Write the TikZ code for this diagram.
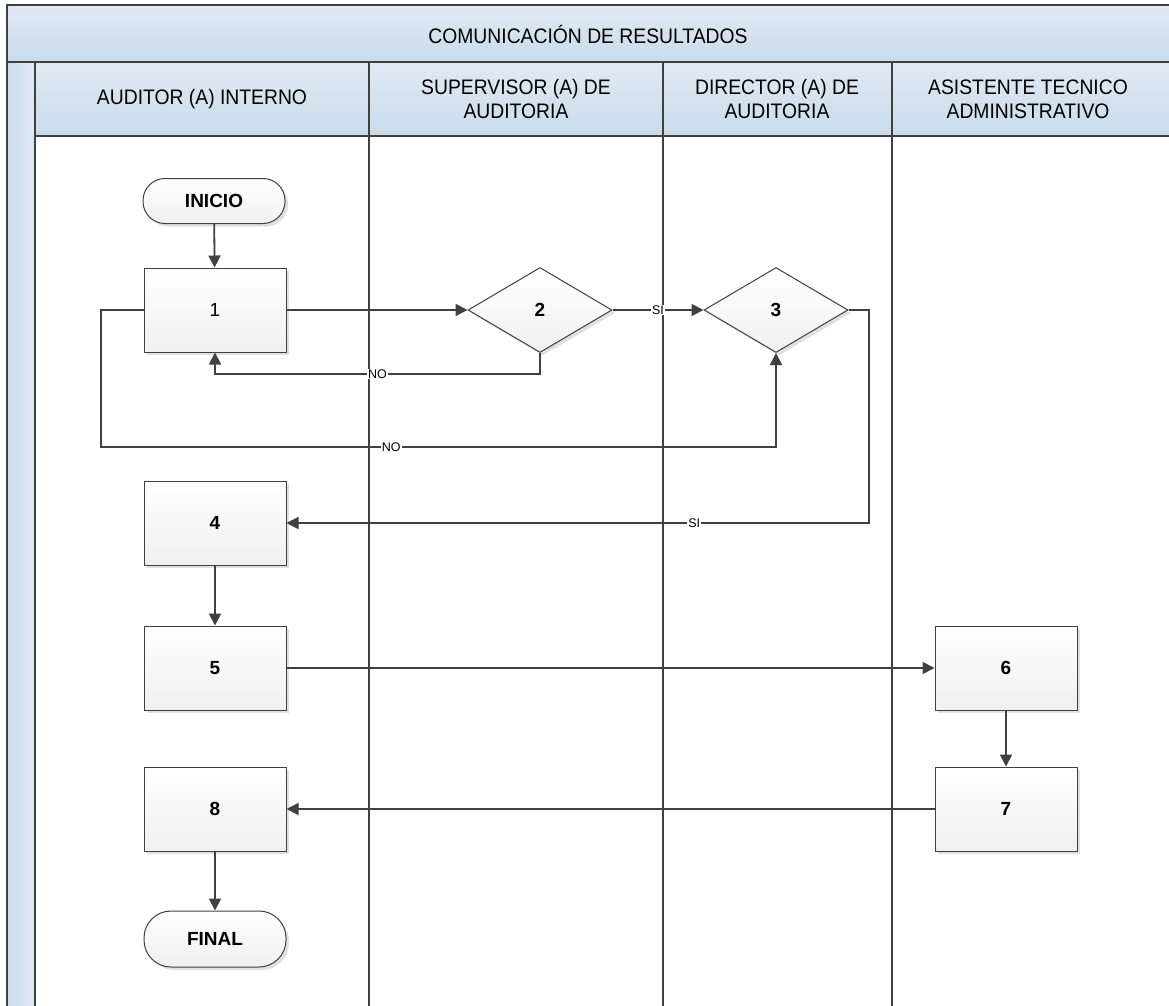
\documentclass[tikz,border=0pt]{standalone}
\usepackage{fontspec}
\setmainfont{Liberation Sans}
\newfontfamily\hdrfont[FakeStretch=0.92]{Liberation Sans}
\usetikzlibrary{shapes.geometric,arrows.meta,shadows,calc}
\definecolor{ln}{HTML}{404040}
\definecolor{hdtop}{HTML}{E1EAF3}
\definecolor{hdbot}{HTML}{C9DBEA}
\tikzset{
  x=1pt, y=-1pt,
  hdr/.style={draw=ln, line width=1.2pt, top color=hdtop, bottom color=hdbot},
  hdrtext/.style={font=\hdrfont\fontsize{21}{24}\selectfont, align=center, text=black},
  lane/.style={draw=ln, line width=1.3pt},
  procbox/.style={draw=ln, line width=1pt, top color=white, bottom color=gray!12,
    minimum width=142pt, minimum height=84pt, inner sep=0pt,
    font=\fontsize{19}{20}\selectfont\bfseries,
    drop shadow={shadow xshift=3pt, shadow yshift=-3pt, fill=black, opacity=0.12}},
  termbox/.style={procbox, rounded corners=22pt, minimum height=45pt},
  decbox/.style={diamond, draw=ln, line width=1pt, top color=white, bottom color=gray!12,
    minimum width=144pt, minimum height=85pt, inner sep=0pt, aspect=1.7,
    font=\fontsize{19}{20}\selectfont\bfseries,
    drop shadow={shadow xshift=3pt, shadow yshift=-3pt, fill=black, opacity=0.12}},
  conn/.style={draw=ln, line width=1.8pt, -{Triangle[length=12pt,width=12pt]}},
  plain/.style={draw=ln, line width=1.8pt},
  elab/.style={fill=white, inner sep=1pt, font=\fontsize{12.5}{12.5}\selectfont, text=black}
}
\begin{document}
\begin{tikzpicture}
\useasboundingbox (0,0) rectangle (1169,1005);
\begin{scope}
\clip (0,0) rectangle (1169,1005);
\fill[white] (0,0) rectangle (1169,1005);
% left band
\shade[left color=hdbot, right color=hdtop, draw=ln, line width=1.2pt] (7,62) rectangle (35,1015);
% title band
\path[hdr] (7,5) rectangle (1180,62);
\node[hdrtext] (title) at (588,34) {COMUNICACIÓN DE RESULTADOS};
% header cells
\path[hdr] (35,62) rectangle (369,136);
\path[hdr] (369,62) rectangle (663,136);
\path[hdr] (663,62) rectangle (892,136);
\path[hdr] (892,62) rectangle (1180,136);
\node[hdrtext] (h1) at (202,99) {AUDITOR (A) INTERNO};
\node[hdrtext] (h2) at (516,99) {SUPERVISOR (A) DE\\AUDITORIA};
\node[hdrtext] (h3) at (777,99) {DIRECTOR (A) DE\\AUDITORIA};
\node[hdrtext] (h4) at (1028,99) {ASISTENTE TECNICO\\ADMINISTRATIVO};
% lane lines
\draw[lane] (369,136) -- (369,1015);
\draw[lane] (663,136) -- (663,1015);
\draw[lane] (892,136) -- (892,1015);
\end{scope}

% nodes
\node[termbox] (ini) at (214,201) {INICIO};
\node[procbox, font=\fontsize{19}{20}\selectfont] (n1) at (215,310) {1};
\node[decbox] (n2) at (540,310) {2};
\node[decbox] (n3) at (776,310) {3};
\node[procbox] (n4) at (215,523) {4};
\node[procbox] (n5) at (215,668) {5};
\node[procbox] (n6) at (1006,668) {6};
\node[procbox] (n7) at (1006,809) {7};
\node[procbox] (n8) at (215,809) {8};
\node[termbox, minimum height=56pt, rounded corners=27pt] (fin) at (215,939) {FINAL};

% connectors
\draw[conn] (ini) -- (n1);
\draw[conn] (n1) -- (n2);
\draw[conn] (n2) -- node[elab] {SI} (n3);
\coordinate (c2) at (540,374);
\draw[conn] (n2.south) -- (c2) -- node[elab, pos=0.5] {NO} (c2 -| n1.south) -- (n1.south);
\coordinate (c1a) at (101,310);
\coordinate (c1b) at (101,447);
\draw[conn] (n1.west) -- (c1a) -- (c1b) -- node[elab, pos=0.43] {NO} (c1b -| n3.south) -- (n3.south);
\coordinate (c3a) at (869,310);
\coordinate (c3b) at (869,523);
\draw[conn] (n3.east) -- (c3a) -- (c3b) -- node[elab, pos=0.30] {SI} (n4.east);
\draw[conn] (n4) -- (n5);
\draw[conn] (n5) -- (n6);
\draw[conn] (n6) -- (n7);
\draw[conn] (n7.west) -- (n8.east);
\draw[conn] (n8) -- (fin);
\end{tikzpicture}
\end{document}
